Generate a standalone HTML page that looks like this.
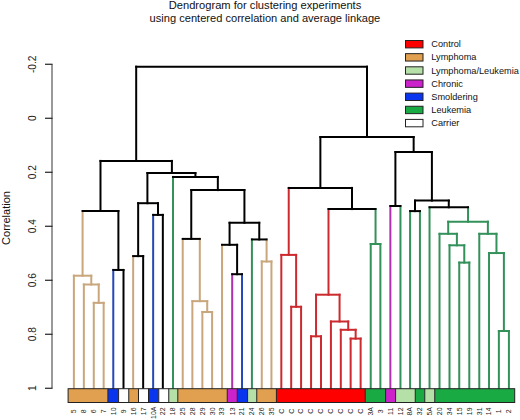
<!DOCTYPE html><html><head><meta charset="utf-8"><style>html,body{margin:0;padding:0;background:#fff;}svg{display:block;}text{font-family:"Liberation Sans",sans-serif;}</style></head><body>
<svg width="520" height="420" viewBox="0 0 520 420">
<rect width="520" height="420" fill="#fff"/>
<text x="265.0" y="9.25" font-size="11.15" text-anchor="middle" fill="#111">Dendrogram for clustering experiments</text>
<text x="264.9" y="22.3" font-size="11.1" text-anchor="middle" fill="#111">using centered correlation and average linkage</text>
<text transform="translate(10,218) rotate(-90)" font-size="11" text-anchor="middle" fill="#111">Correlation</text>
<line x1="52.0" y1="64.27" x2="52.0" y2="388.27" stroke="#333" stroke-width="1"/>
<line x1="45" y1="64.27" x2="52.5" y2="64.27" stroke="#222" stroke-width="1.2"/>
<text transform="translate(36.1,64.27) rotate(-90)" font-size="10.2" text-anchor="middle" fill="#222">-0.2</text>
<line x1="45" y1="118.27" x2="52.5" y2="118.27" stroke="#222" stroke-width="1.2"/>
<text transform="translate(36.1,118.27) rotate(-90)" font-size="10.2" text-anchor="middle" fill="#222">0</text>
<line x1="45" y1="172.27" x2="52.5" y2="172.27" stroke="#222" stroke-width="1.2"/>
<text transform="translate(36.1,172.27) rotate(-90)" font-size="10.2" text-anchor="middle" fill="#222">0.2</text>
<line x1="45" y1="226.27" x2="52.5" y2="226.27" stroke="#222" stroke-width="1.2"/>
<text transform="translate(36.1,226.27) rotate(-90)" font-size="10.2" text-anchor="middle" fill="#222">0.4</text>
<line x1="45" y1="280.27" x2="52.5" y2="280.27" stroke="#222" stroke-width="1.2"/>
<text transform="translate(36.1,280.27) rotate(-90)" font-size="10.2" text-anchor="middle" fill="#222">0.6</text>
<line x1="45" y1="334.27" x2="52.5" y2="334.27" stroke="#222" stroke-width="1.2"/>
<text transform="translate(36.1,334.27) rotate(-90)" font-size="10.2" text-anchor="middle" fill="#222">0.8</text>
<line x1="45" y1="388.27" x2="52.5" y2="388.27" stroke="#222" stroke-width="1.2"/>
<text transform="translate(36.1,388.27) rotate(-90)" font-size="10.2" text-anchor="middle" fill="#222">1</text>
<line x1="93.77" y1="302.85" x2="93.77" y2="388.50" stroke="#c9a67c" stroke-width="2.0" stroke-linecap="square"/>
<line x1="103.66" y1="302.85" x2="103.66" y2="388.50" stroke="#c9a67c" stroke-width="2.0" stroke-linecap="square"/>
<line x1="93.77" y1="302.85" x2="103.66" y2="302.85" stroke="#c9a67c" stroke-width="2.0" stroke-linecap="square"/>
<line x1="83.85" y1="284.50" x2="83.85" y2="388.50" stroke="#c9a67c" stroke-width="2.0" stroke-linecap="square"/>
<line x1="98.72" y1="284.50" x2="98.72" y2="302.85" stroke="#c9a67c" stroke-width="2.0" stroke-linecap="square"/>
<line x1="83.85" y1="284.50" x2="98.72" y2="284.50" stroke="#c9a67c" stroke-width="2.0" stroke-linecap="square"/>
<line x1="73.88" y1="275.70" x2="73.88" y2="388.50" stroke="#c9a67c" stroke-width="2.0" stroke-linecap="square"/>
<line x1="91.28" y1="275.70" x2="91.28" y2="284.50" stroke="#c9a67c" stroke-width="2.0" stroke-linecap="square"/>
<line x1="73.88" y1="275.70" x2="91.28" y2="275.70" stroke="#c9a67c" stroke-width="2.0" stroke-linecap="square"/>
<line x1="113.28" y1="269.95" x2="113.28" y2="388.50" stroke="#2448b8" stroke-width="2.0" stroke-linecap="square"/>
<line x1="123.50" y1="269.95" x2="123.50" y2="388.50" stroke="#000000" stroke-width="2.0" stroke-linecap="square"/>
<line x1="113.28" y1="269.95" x2="123.50" y2="269.95" stroke="#000" stroke-width="2.0" stroke-linecap="square"/>
<line x1="82.58" y1="211.00" x2="82.58" y2="275.70" stroke="#c9a67c" stroke-width="2.0" stroke-linecap="square"/>
<line x1="118.39" y1="211.00" x2="118.39" y2="269.95" stroke="#000" stroke-width="2.0" stroke-linecap="square"/>
<line x1="82.58" y1="211.00" x2="118.39" y2="211.00" stroke="#000" stroke-width="2.0" stroke-linecap="square"/>
<line x1="133.16" y1="256.10" x2="133.16" y2="388.50" stroke="#c9a67c" stroke-width="2.0" stroke-linecap="square"/>
<line x1="143.16" y1="256.10" x2="143.16" y2="388.50" stroke="#000000" stroke-width="2.0" stroke-linecap="square"/>
<line x1="133.16" y1="256.10" x2="143.16" y2="256.10" stroke="#000" stroke-width="2.0" stroke-linecap="square"/>
<line x1="153.15" y1="214.90" x2="153.15" y2="388.50" stroke="#2448b8" stroke-width="2.0" stroke-linecap="square"/>
<line x1="162.84" y1="214.90" x2="162.84" y2="388.50" stroke="#000000" stroke-width="2.0" stroke-linecap="square"/>
<line x1="153.15" y1="214.90" x2="162.84" y2="214.90" stroke="#000" stroke-width="2.0" stroke-linecap="square"/>
<line x1="138.16" y1="203.20" x2="138.16" y2="256.10" stroke="#000" stroke-width="2.0" stroke-linecap="square"/>
<line x1="157.99" y1="203.20" x2="157.99" y2="214.90" stroke="#000" stroke-width="2.0" stroke-linecap="square"/>
<line x1="138.16" y1="203.20" x2="157.99" y2="203.20" stroke="#000" stroke-width="2.0" stroke-linecap="square"/>
<line x1="202.36" y1="312.00" x2="202.36" y2="388.50" stroke="#c9a67c" stroke-width="2.0" stroke-linecap="square"/>
<line x1="212.10" y1="312.00" x2="212.10" y2="388.50" stroke="#c9a67c" stroke-width="2.0" stroke-linecap="square"/>
<line x1="202.36" y1="312.00" x2="212.10" y2="312.00" stroke="#c9a67c" stroke-width="2.0" stroke-linecap="square"/>
<line x1="192.37" y1="301.15" x2="192.37" y2="388.50" stroke="#c9a67c" stroke-width="2.0" stroke-linecap="square"/>
<line x1="207.23" y1="301.15" x2="207.23" y2="312.00" stroke="#c9a67c" stroke-width="2.0" stroke-linecap="square"/>
<line x1="192.37" y1="301.15" x2="207.23" y2="301.15" stroke="#c9a67c" stroke-width="2.0" stroke-linecap="square"/>
<line x1="182.72" y1="238.90" x2="182.72" y2="388.50" stroke="#c9a67c" stroke-width="2.0" stroke-linecap="square"/>
<line x1="199.80" y1="238.90" x2="199.80" y2="301.15" stroke="#c9a67c" stroke-width="2.0" stroke-linecap="square"/>
<line x1="182.72" y1="238.90" x2="199.80" y2="238.90" stroke="#000" stroke-width="2.0" stroke-linecap="square"/>
<line x1="232.18" y1="274.20" x2="232.18" y2="388.50" stroke="#b030b0" stroke-width="2.0" stroke-linecap="square"/>
<line x1="242.03" y1="274.20" x2="242.03" y2="388.50" stroke="#2448b8" stroke-width="2.0" stroke-linecap="square"/>
<line x1="232.18" y1="274.20" x2="242.03" y2="274.20" stroke="#000" stroke-width="2.0" stroke-linecap="square"/>
<line x1="222.04" y1="244.80" x2="222.04" y2="388.50" stroke="#c9a67c" stroke-width="2.0" stroke-linecap="square"/>
<line x1="237.11" y1="244.80" x2="237.11" y2="274.20" stroke="#000" stroke-width="2.0" stroke-linecap="square"/>
<line x1="222.04" y1="244.80" x2="237.11" y2="244.80" stroke="#000" stroke-width="2.0" stroke-linecap="square"/>
<line x1="261.76" y1="261.50" x2="261.76" y2="388.50" stroke="#c9a67c" stroke-width="2.0" stroke-linecap="square"/>
<line x1="271.43" y1="261.50" x2="271.43" y2="388.50" stroke="#c9a67c" stroke-width="2.0" stroke-linecap="square"/>
<line x1="261.76" y1="261.50" x2="271.43" y2="261.50" stroke="#c9a67c" stroke-width="2.0" stroke-linecap="square"/>
<line x1="251.92" y1="239.45" x2="251.92" y2="388.50" stroke="#33915a" stroke-width="2.0" stroke-linecap="square"/>
<line x1="266.59" y1="239.45" x2="266.59" y2="261.50" stroke="#c9a67c" stroke-width="2.0" stroke-linecap="square"/>
<line x1="251.92" y1="239.45" x2="266.59" y2="239.45" stroke="#000" stroke-width="2.0" stroke-linecap="square"/>
<line x1="229.57" y1="222.80" x2="229.57" y2="244.80" stroke="#000" stroke-width="2.0" stroke-linecap="square"/>
<line x1="259.26" y1="222.80" x2="259.26" y2="239.45" stroke="#000" stroke-width="2.0" stroke-linecap="square"/>
<line x1="229.57" y1="222.80" x2="259.26" y2="222.80" stroke="#000" stroke-width="2.0" stroke-linecap="square"/>
<line x1="191.26" y1="190.10" x2="191.26" y2="238.90" stroke="#000" stroke-width="2.0" stroke-linecap="square"/>
<line x1="244.42" y1="190.10" x2="244.42" y2="222.80" stroke="#000" stroke-width="2.0" stroke-linecap="square"/>
<line x1="191.26" y1="190.10" x2="244.42" y2="190.10" stroke="#000" stroke-width="2.0" stroke-linecap="square"/>
<line x1="172.98" y1="176.90" x2="172.98" y2="388.50" stroke="#33915a" stroke-width="2.0" stroke-linecap="square"/>
<line x1="217.84" y1="176.90" x2="217.84" y2="190.10" stroke="#000" stroke-width="2.0" stroke-linecap="square"/>
<line x1="172.98" y1="176.90" x2="217.84" y2="176.90" stroke="#000" stroke-width="2.0" stroke-linecap="square"/>
<line x1="147.40" y1="173.00" x2="147.40" y2="203.20" stroke="#000" stroke-width="2.0" stroke-linecap="square"/>
<line x1="195.41" y1="173.00" x2="195.41" y2="176.90" stroke="#000" stroke-width="2.0" stroke-linecap="square"/>
<line x1="147.40" y1="173.00" x2="195.41" y2="173.00" stroke="#000" stroke-width="2.0" stroke-linecap="square"/>
<line x1="100.49" y1="160.90" x2="100.49" y2="211.00" stroke="#000" stroke-width="2.0" stroke-linecap="square"/>
<line x1="171.90" y1="160.90" x2="171.90" y2="173.00" stroke="#000" stroke-width="2.0" stroke-linecap="square"/>
<line x1="100.49" y1="160.90" x2="171.90" y2="160.90" stroke="#000" stroke-width="2.0" stroke-linecap="square"/>
<line x1="291.19" y1="306.80" x2="291.19" y2="388.50" stroke="#cc2a2e" stroke-width="2.0" stroke-linecap="square"/>
<line x1="301.08" y1="306.80" x2="301.08" y2="388.50" stroke="#cc2a2e" stroke-width="2.0" stroke-linecap="square"/>
<line x1="291.19" y1="306.80" x2="301.08" y2="306.80" stroke="#cc2a2e" stroke-width="2.0" stroke-linecap="square"/>
<line x1="281.32" y1="254.90" x2="281.32" y2="388.50" stroke="#cc2a2e" stroke-width="2.0" stroke-linecap="square"/>
<line x1="296.13" y1="254.90" x2="296.13" y2="306.80" stroke="#cc2a2e" stroke-width="2.0" stroke-linecap="square"/>
<line x1="281.32" y1="254.90" x2="296.13" y2="254.90" stroke="#cc2a2e" stroke-width="2.0" stroke-linecap="square"/>
<line x1="311.07" y1="336.30" x2="311.07" y2="388.50" stroke="#cc2a2e" stroke-width="2.0" stroke-linecap="square"/>
<line x1="321.01" y1="336.30" x2="321.01" y2="388.50" stroke="#cc2a2e" stroke-width="2.0" stroke-linecap="square"/>
<line x1="311.07" y1="336.30" x2="321.01" y2="336.30" stroke="#cc2a2e" stroke-width="2.0" stroke-linecap="square"/>
<line x1="350.64" y1="338.60" x2="350.64" y2="388.50" stroke="#cc2a2e" stroke-width="2.0" stroke-linecap="square"/>
<line x1="360.63" y1="338.60" x2="360.63" y2="388.50" stroke="#cc2a2e" stroke-width="2.0" stroke-linecap="square"/>
<line x1="350.64" y1="338.60" x2="360.63" y2="338.60" stroke="#cc2a2e" stroke-width="2.0" stroke-linecap="square"/>
<line x1="340.80" y1="329.80" x2="340.80" y2="388.50" stroke="#cc2a2e" stroke-width="2.0" stroke-linecap="square"/>
<line x1="355.64" y1="329.80" x2="355.64" y2="338.60" stroke="#cc2a2e" stroke-width="2.0" stroke-linecap="square"/>
<line x1="340.80" y1="329.80" x2="355.64" y2="329.80" stroke="#cc2a2e" stroke-width="2.0" stroke-linecap="square"/>
<line x1="330.91" y1="321.50" x2="330.91" y2="388.50" stroke="#cc2a2e" stroke-width="2.0" stroke-linecap="square"/>
<line x1="348.22" y1="321.50" x2="348.22" y2="329.80" stroke="#cc2a2e" stroke-width="2.0" stroke-linecap="square"/>
<line x1="330.91" y1="321.50" x2="348.22" y2="321.50" stroke="#cc2a2e" stroke-width="2.0" stroke-linecap="square"/>
<line x1="316.04" y1="294.70" x2="316.04" y2="336.30" stroke="#cc2a2e" stroke-width="2.0" stroke-linecap="square"/>
<line x1="339.56" y1="294.70" x2="339.56" y2="321.50" stroke="#cc2a2e" stroke-width="2.0" stroke-linecap="square"/>
<line x1="316.04" y1="294.70" x2="339.56" y2="294.70" stroke="#cc2a2e" stroke-width="2.0" stroke-linecap="square"/>
<line x1="370.72" y1="244.00" x2="370.72" y2="388.50" stroke="#33915a" stroke-width="2.0" stroke-linecap="square"/>
<line x1="380.37" y1="244.00" x2="380.37" y2="388.50" stroke="#33915a" stroke-width="2.0" stroke-linecap="square"/>
<line x1="370.72" y1="244.00" x2="380.37" y2="244.00" stroke="#33915a" stroke-width="2.0" stroke-linecap="square"/>
<line x1="328.50" y1="209.10" x2="328.50" y2="294.70" stroke="#cc2a2e" stroke-width="2.0" stroke-linecap="square"/>
<line x1="375.55" y1="209.10" x2="375.55" y2="244.00" stroke="#33915a" stroke-width="2.0" stroke-linecap="square"/>
<line x1="328.50" y1="209.10" x2="375.55" y2="209.10" stroke="#000" stroke-width="2.0" stroke-linecap="square"/>
<line x1="288.73" y1="187.90" x2="288.73" y2="254.90" stroke="#cc2a2e" stroke-width="2.0" stroke-linecap="square"/>
<line x1="352.02" y1="187.90" x2="352.02" y2="209.10" stroke="#000" stroke-width="2.0" stroke-linecap="square"/>
<line x1="288.73" y1="187.90" x2="352.02" y2="187.90" stroke="#000" stroke-width="2.0" stroke-linecap="square"/>
<line x1="390.36" y1="206.00" x2="390.36" y2="388.50" stroke="#b030b0" stroke-width="2.0" stroke-linecap="square"/>
<line x1="400.45" y1="206.00" x2="400.45" y2="388.50" stroke="#33915a" stroke-width="2.0" stroke-linecap="square"/>
<line x1="390.36" y1="206.00" x2="400.45" y2="206.00" stroke="#000" stroke-width="2.0" stroke-linecap="square"/>
<line x1="410.09" y1="211.10" x2="410.09" y2="388.50" stroke="#33915a" stroke-width="2.0" stroke-linecap="square"/>
<line x1="419.94" y1="211.10" x2="419.94" y2="388.50" stroke="#33915a" stroke-width="2.0" stroke-linecap="square"/>
<line x1="410.09" y1="211.10" x2="419.94" y2="211.10" stroke="#000" stroke-width="2.0" stroke-linecap="square"/>
<line x1="459.25" y1="262.60" x2="459.25" y2="388.50" stroke="#33915a" stroke-width="2.0" stroke-linecap="square"/>
<line x1="469.30" y1="262.60" x2="469.30" y2="388.50" stroke="#33915a" stroke-width="2.0" stroke-linecap="square"/>
<line x1="459.25" y1="262.60" x2="469.30" y2="262.60" stroke="#33915a" stroke-width="2.0" stroke-linecap="square"/>
<line x1="449.51" y1="245.30" x2="449.51" y2="388.50" stroke="#33915a" stroke-width="2.0" stroke-linecap="square"/>
<line x1="464.27" y1="245.30" x2="464.27" y2="262.60" stroke="#33915a" stroke-width="2.0" stroke-linecap="square"/>
<line x1="449.51" y1="245.30" x2="464.27" y2="245.30" stroke="#33915a" stroke-width="2.0" stroke-linecap="square"/>
<line x1="439.52" y1="233.80" x2="439.52" y2="388.50" stroke="#33915a" stroke-width="2.0" stroke-linecap="square"/>
<line x1="456.89" y1="233.80" x2="456.89" y2="245.30" stroke="#33915a" stroke-width="2.0" stroke-linecap="square"/>
<line x1="439.52" y1="233.80" x2="456.89" y2="233.80" stroke="#33915a" stroke-width="2.0" stroke-linecap="square"/>
<line x1="498.87" y1="331.00" x2="498.87" y2="388.50" stroke="#33915a" stroke-width="2.0" stroke-linecap="square"/>
<line x1="508.91" y1="331.00" x2="508.91" y2="388.50" stroke="#33915a" stroke-width="2.0" stroke-linecap="square"/>
<line x1="498.87" y1="331.00" x2="508.91" y2="331.00" stroke="#33915a" stroke-width="2.0" stroke-linecap="square"/>
<line x1="489.03" y1="253.05" x2="489.03" y2="388.50" stroke="#33915a" stroke-width="2.0" stroke-linecap="square"/>
<line x1="503.89" y1="253.05" x2="503.89" y2="331.00" stroke="#33915a" stroke-width="2.0" stroke-linecap="square"/>
<line x1="489.03" y1="253.05" x2="503.89" y2="253.05" stroke="#33915a" stroke-width="2.0" stroke-linecap="square"/>
<line x1="479.29" y1="233.80" x2="479.29" y2="388.50" stroke="#33915a" stroke-width="2.0" stroke-linecap="square"/>
<line x1="496.46" y1="233.80" x2="496.46" y2="253.05" stroke="#33915a" stroke-width="2.0" stroke-linecap="square"/>
<line x1="479.29" y1="233.80" x2="496.46" y2="233.80" stroke="#33915a" stroke-width="2.0" stroke-linecap="square"/>
<line x1="448.21" y1="221.70" x2="448.21" y2="233.80" stroke="#33915a" stroke-width="2.0" stroke-linecap="square"/>
<line x1="487.88" y1="221.70" x2="487.88" y2="233.80" stroke="#33915a" stroke-width="2.0" stroke-linecap="square"/>
<line x1="448.21" y1="221.70" x2="487.88" y2="221.70" stroke="#33915a" stroke-width="2.0" stroke-linecap="square"/>
<line x1="429.53" y1="207.30" x2="429.53" y2="388.50" stroke="#33915a" stroke-width="2.0" stroke-linecap="square"/>
<line x1="468.04" y1="207.30" x2="468.04" y2="221.70" stroke="#33915a" stroke-width="2.0" stroke-linecap="square"/>
<line x1="429.53" y1="207.30" x2="468.04" y2="207.30" stroke="#000" stroke-width="2.0" stroke-linecap="square"/>
<line x1="415.01" y1="200.60" x2="415.01" y2="211.10" stroke="#000" stroke-width="2.0" stroke-linecap="square"/>
<line x1="448.78" y1="200.60" x2="448.78" y2="207.30" stroke="#000" stroke-width="2.0" stroke-linecap="square"/>
<line x1="415.01" y1="200.60" x2="448.78" y2="200.60" stroke="#000" stroke-width="2.0" stroke-linecap="square"/>
<line x1="395.40" y1="152.00" x2="395.40" y2="206.00" stroke="#000" stroke-width="2.0" stroke-linecap="square"/>
<line x1="431.90" y1="152.00" x2="431.90" y2="200.60" stroke="#000" stroke-width="2.0" stroke-linecap="square"/>
<line x1="395.40" y1="152.00" x2="431.90" y2="152.00" stroke="#000" stroke-width="2.0" stroke-linecap="square"/>
<line x1="320.37" y1="137.00" x2="320.37" y2="187.90" stroke="#000" stroke-width="2.0" stroke-linecap="square"/>
<line x1="413.65" y1="137.00" x2="413.65" y2="152.00" stroke="#000" stroke-width="2.0" stroke-linecap="square"/>
<line x1="320.37" y1="137.00" x2="413.65" y2="137.00" stroke="#000" stroke-width="2.0" stroke-linecap="square"/>
<line x1="136.19" y1="66.70" x2="136.19" y2="160.90" stroke="#000" stroke-width="2.0" stroke-linecap="square"/>
<line x1="367.01" y1="66.70" x2="367.01" y2="137.00" stroke="#000" stroke-width="2.0" stroke-linecap="square"/>
<line x1="136.19" y1="66.70" x2="367.01" y2="66.70" stroke="#000" stroke-width="2.0" stroke-linecap="square"/>
<rect x="68.10" y="388.7" width="39.80" height="13.80" fill="#e0a050"/>
<rect x="107.90" y="388.7" width="10.70" height="13.80" fill="#0a35ee"/>
<rect x="118.60" y="388.7" width="10.15" height="13.80" fill="#ffffff"/>
<rect x="128.75" y="388.7" width="9.75" height="13.80" fill="#e0a050"/>
<rect x="138.50" y="388.7" width="10.00" height="13.80" fill="#ffffff"/>
<rect x="148.50" y="388.7" width="10.25" height="13.80" fill="#0a35ee"/>
<rect x="158.75" y="388.7" width="10.00" height="13.80" fill="#ffffff"/>
<rect x="168.75" y="388.7" width="9.05" height="13.80" fill="#b5e0a8"/>
<rect x="177.80" y="388.7" width="49.45" height="13.80" fill="#e0a050"/>
<rect x="227.25" y="388.7" width="10.00" height="13.80" fill="#cc22cc"/>
<rect x="237.25" y="388.7" width="10.35" height="13.80" fill="#0a35ee"/>
<rect x="247.60" y="388.7" width="9.15" height="13.80" fill="#b5e0a8"/>
<rect x="256.75" y="388.7" width="19.65" height="13.80" fill="#e0a050"/>
<rect x="276.40" y="388.7" width="88.85" height="13.80" fill="#ff0000"/>
<rect x="365.25" y="388.7" width="20.35" height="13.80" fill="#1aaa44"/>
<rect x="385.60" y="388.7" width="10.00" height="13.80" fill="#cc22cc"/>
<rect x="395.60" y="388.7" width="19.65" height="13.80" fill="#b5e0a8"/>
<rect x="415.25" y="388.7" width="9.50" height="13.80" fill="#1aaa44"/>
<rect x="424.75" y="388.7" width="10.00" height="13.80" fill="#b5e0a8"/>
<rect x="434.75" y="388.7" width="79.95" height="13.80" fill="#1aaa44"/>
<line x1="107.90" y1="388.7" x2="107.90" y2="402.5" stroke="#222" stroke-width="1"/>
<line x1="118.60" y1="388.7" x2="118.60" y2="402.5" stroke="#222" stroke-width="1"/>
<line x1="128.75" y1="388.7" x2="128.75" y2="402.5" stroke="#222" stroke-width="1"/>
<line x1="138.50" y1="388.7" x2="138.50" y2="402.5" stroke="#222" stroke-width="1"/>
<line x1="148.50" y1="388.7" x2="148.50" y2="402.5" stroke="#222" stroke-width="1"/>
<line x1="158.75" y1="388.7" x2="158.75" y2="402.5" stroke="#222" stroke-width="1"/>
<line x1="168.75" y1="388.7" x2="168.75" y2="402.5" stroke="#222" stroke-width="1"/>
<line x1="177.80" y1="388.7" x2="177.80" y2="402.5" stroke="#222" stroke-width="1"/>
<line x1="227.25" y1="388.7" x2="227.25" y2="402.5" stroke="#222" stroke-width="1"/>
<line x1="237.25" y1="388.7" x2="237.25" y2="402.5" stroke="#222" stroke-width="1"/>
<line x1="247.60" y1="388.7" x2="247.60" y2="402.5" stroke="#222" stroke-width="1"/>
<line x1="256.75" y1="388.7" x2="256.75" y2="402.5" stroke="#222" stroke-width="1"/>
<line x1="276.40" y1="388.7" x2="276.40" y2="402.5" stroke="#222" stroke-width="1"/>
<line x1="365.25" y1="388.7" x2="365.25" y2="402.5" stroke="#222" stroke-width="1"/>
<line x1="385.60" y1="388.7" x2="385.60" y2="402.5" stroke="#222" stroke-width="1"/>
<line x1="395.60" y1="388.7" x2="395.60" y2="402.5" stroke="#222" stroke-width="1"/>
<line x1="415.25" y1="388.7" x2="415.25" y2="402.5" stroke="#222" stroke-width="1"/>
<line x1="424.75" y1="388.7" x2="424.75" y2="402.5" stroke="#222" stroke-width="1"/>
<line x1="434.75" y1="388.7" x2="434.75" y2="402.5" stroke="#222" stroke-width="1"/>
<rect x="68.10" y="388.7" width="446.60" height="13.80" fill="none" stroke="#222" stroke-width="1"/>
<text transform="translate(76.28,411.3) rotate(-90)" font-size="6.9" text-anchor="middle" fill="#1a1a1a">5</text>
<text transform="translate(86.25,411.3) rotate(-90)" font-size="6.9" text-anchor="middle" fill="#1a1a1a">8</text>
<text transform="translate(96.17,411.3) rotate(-90)" font-size="6.9" text-anchor="middle" fill="#1a1a1a">6</text>
<text transform="translate(106.06,411.3) rotate(-90)" font-size="6.9" text-anchor="middle" fill="#1a1a1a">7</text>
<text transform="translate(115.68,411.3) rotate(-90)" font-size="6.9" text-anchor="middle" fill="#1a1a1a">10</text>
<text transform="translate(125.90,411.3) rotate(-90)" font-size="6.9" text-anchor="middle" fill="#1a1a1a">9</text>
<text transform="translate(135.56,411.3) rotate(-90)" font-size="6.9" text-anchor="middle" fill="#1a1a1a">16</text>
<text transform="translate(145.56,411.3) rotate(-90)" font-size="6.9" text-anchor="middle" fill="#1a1a1a">17</text>
<text transform="translate(155.55,412.8) rotate(-90)" font-size="6.9" text-anchor="middle" fill="#1a1a1a">10A</text>
<text transform="translate(165.24,411.3) rotate(-90)" font-size="6.9" text-anchor="middle" fill="#1a1a1a">22</text>
<text transform="translate(175.38,411.3) rotate(-90)" font-size="6.9" text-anchor="middle" fill="#1a1a1a">18</text>
<text transform="translate(185.12,411.3) rotate(-90)" font-size="6.9" text-anchor="middle" fill="#1a1a1a">25</text>
<text transform="translate(194.77,411.3) rotate(-90)" font-size="6.9" text-anchor="middle" fill="#1a1a1a">28</text>
<text transform="translate(204.76,411.3) rotate(-90)" font-size="6.9" text-anchor="middle" fill="#1a1a1a">29</text>
<text transform="translate(214.50,411.3) rotate(-90)" font-size="6.9" text-anchor="middle" fill="#1a1a1a">30</text>
<text transform="translate(224.44,411.3) rotate(-90)" font-size="6.9" text-anchor="middle" fill="#1a1a1a">33</text>
<text transform="translate(234.58,411.3) rotate(-90)" font-size="6.9" text-anchor="middle" fill="#1a1a1a">13</text>
<text transform="translate(244.43,411.3) rotate(-90)" font-size="6.9" text-anchor="middle" fill="#1a1a1a">21</text>
<text transform="translate(254.32,411.3) rotate(-90)" font-size="6.9" text-anchor="middle" fill="#1a1a1a">24</text>
<text transform="translate(264.16,411.3) rotate(-90)" font-size="6.9" text-anchor="middle" fill="#1a1a1a">26</text>
<text transform="translate(273.83,411.3) rotate(-90)" font-size="6.9" text-anchor="middle" fill="#1a1a1a">35</text>
<text transform="translate(283.72,411.3) rotate(-90)" font-size="6.9" text-anchor="middle" fill="#1a1a1a">C</text>
<text transform="translate(293.59,411.3) rotate(-90)" font-size="6.9" text-anchor="middle" fill="#1a1a1a">C</text>
<text transform="translate(303.48,411.3) rotate(-90)" font-size="6.9" text-anchor="middle" fill="#1a1a1a">C</text>
<text transform="translate(313.47,411.3) rotate(-90)" font-size="6.9" text-anchor="middle" fill="#1a1a1a">C</text>
<text transform="translate(323.41,411.3) rotate(-90)" font-size="6.9" text-anchor="middle" fill="#1a1a1a">C</text>
<text transform="translate(333.31,411.3) rotate(-90)" font-size="6.9" text-anchor="middle" fill="#1a1a1a">C</text>
<text transform="translate(343.20,411.3) rotate(-90)" font-size="6.9" text-anchor="middle" fill="#1a1a1a">C</text>
<text transform="translate(353.04,411.3) rotate(-90)" font-size="6.9" text-anchor="middle" fill="#1a1a1a">C</text>
<text transform="translate(363.03,411.3) rotate(-90)" font-size="6.9" text-anchor="middle" fill="#1a1a1a">C</text>
<text transform="translate(373.12,411.3) rotate(-90)" font-size="6.9" text-anchor="middle" fill="#1a1a1a">3A</text>
<text transform="translate(382.77,411.3) rotate(-90)" font-size="6.9" text-anchor="middle" fill="#1a1a1a">3</text>
<text transform="translate(392.76,411.3) rotate(-90)" font-size="6.9" text-anchor="middle" fill="#1a1a1a">11</text>
<text transform="translate(402.85,411.3) rotate(-90)" font-size="6.9" text-anchor="middle" fill="#1a1a1a">12</text>
<text transform="translate(412.49,411.3) rotate(-90)" font-size="6.9" text-anchor="middle" fill="#1a1a1a">8A</text>
<text transform="translate(422.34,411.3) rotate(-90)" font-size="6.9" text-anchor="middle" fill="#1a1a1a">32</text>
<text transform="translate(431.93,411.3) rotate(-90)" font-size="6.9" text-anchor="middle" fill="#1a1a1a">5A</text>
<text transform="translate(441.92,411.3) rotate(-90)" font-size="6.9" text-anchor="middle" fill="#1a1a1a">20</text>
<text transform="translate(451.91,411.3) rotate(-90)" font-size="6.9" text-anchor="middle" fill="#1a1a1a">34</text>
<text transform="translate(461.65,411.3) rotate(-90)" font-size="6.9" text-anchor="middle" fill="#1a1a1a">15</text>
<text transform="translate(471.70,411.3) rotate(-90)" font-size="6.9" text-anchor="middle" fill="#1a1a1a">19</text>
<text transform="translate(481.69,411.3) rotate(-90)" font-size="6.9" text-anchor="middle" fill="#1a1a1a">31</text>
<text transform="translate(491.43,411.3) rotate(-90)" font-size="6.9" text-anchor="middle" fill="#1a1a1a">14</text>
<text transform="translate(501.27,411.3) rotate(-90)" font-size="6.9" text-anchor="middle" fill="#1a1a1a">1</text>
<text transform="translate(511.31,411.3) rotate(-90)" font-size="6.9" text-anchor="middle" fill="#1a1a1a">2</text>
<rect x="405.5" y="40.50" width="17.5" height="7.4" fill="#ff0000" stroke="#222" stroke-width="1"/>
<text x="431.3" y="47.20" font-size="9.2" fill="#111">Control</text>
<rect x="405.5" y="53.65" width="17.5" height="7.4" fill="#e0a050" stroke="#222" stroke-width="1"/>
<text x="431.3" y="60.35" font-size="9.2" fill="#111">Lymphoma</text>
<rect x="405.5" y="66.80" width="17.5" height="7.4" fill="#b5e0a8" stroke="#222" stroke-width="1"/>
<text x="431.3" y="73.50" font-size="9.2" fill="#111">Lymphoma/Leukemia</text>
<rect x="405.5" y="79.95" width="17.5" height="7.4" fill="#cc22cc" stroke="#222" stroke-width="1"/>
<text x="431.3" y="86.65" font-size="9.2" fill="#111">Chronic</text>
<rect x="405.5" y="93.10" width="17.5" height="7.4" fill="#0a35ee" stroke="#222" stroke-width="1"/>
<text x="431.3" y="99.80" font-size="9.2" fill="#111">Smoldering</text>
<rect x="405.5" y="106.25" width="17.5" height="7.4" fill="#1aaa44" stroke="#222" stroke-width="1"/>
<text x="431.3" y="112.95" font-size="9.2" fill="#111">Leukemia</text>
<rect x="405.5" y="119.40" width="17.5" height="7.4" fill="#ffffff" stroke="#222" stroke-width="1"/>
<text x="431.3" y="126.10" font-size="9.2" fill="#111">Carrier</text>
</svg></body></html>
